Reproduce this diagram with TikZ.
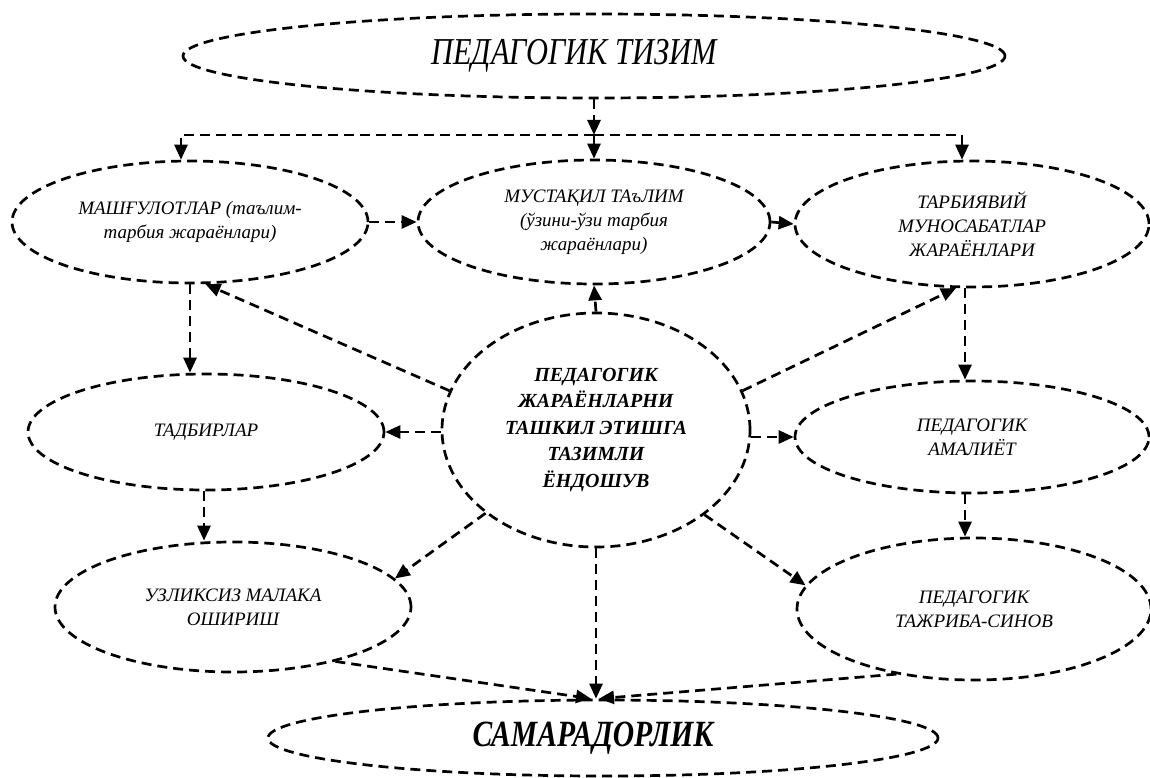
\documentclass[tikz,border=0pt]{standalone}
\usepackage{fontspec}
\setmainfont{Liberation Serif}
\newfontfamily\narrowfont[FakeStretch=0.8]{Liberation Serif}
\usetikzlibrary{shapes.geometric,arrows.meta,positioning}

\tikzset{
	oval/.style={draw=black, ellipse, line width=2.7pt, dash pattern=on 10pt off 6pt,
		inner sep=0pt, align=center, font=\fontsize{19}{24}\selectfont\itshape},
	link/.style={line width=2.7pt, dash pattern=on 10pt off 6pt,
		-{Triangle[length=15pt,width=13pt]}}
}

\begin{document}
\begin{tikzpicture}[x=1pt,y=-1pt]
	\useasboundingbox (0,0) rectangle (1150,778);

	%Top
	\node[oval, minimum width=822pt, minimum height=84pt] (tizim) at (594,56)
		{\narrowfont\fontsize{38}{40}\selectfont\itshape ПЕДАГОГИК ТИЗИМ\hspace*{40pt}};

	%Row 1
	\node[oval, minimum width=356pt, minimum height=122pt] (mashg) at (190,222)
		{МАШҒУЛОТЛАР (таълим-\\тарбия жараёнлари)};
	\node[oval, minimum width=352pt, minimum height=124pt] (mustaqil) at (594,222)
		{МУСТАҚИЛ ТАъЛИМ\\(ўзини-ўзи тарбия\\жараёнлари)};
	\node[oval, minimum width=354pt, minimum height=126pt] (tarbiya) at (972,224)
		{ТАРБИЯВИЙ\\МУНОСАБАТЛАР\\ЖАРАЁНЛАРИ};

	%Centre
	\node[oval, minimum width=308pt, minimum height=234pt,
		font=\fontsize{20}{26.5}\selectfont\bfseries\itshape] (core) at (596,430)
		{ПЕДАГОГИК\\ЖАРАЁНЛАРНИ\\ТАШКИЛ ЭТИШГА\\ТАЗИМЛИ\\ЁНДОШУВ};

	%Row 2
	\node[oval, minimum width=356pt, minimum height=116pt] (tadbir) at (206,432)
		{ТАДБИРЛАР};
	\node[oval, minimum width=354pt, minimum height=112pt] (amaliyot) at (972,437)
		{ПЕДАГОГИК\\АМАЛИЁТ};

	%Row 3
	\node[oval, minimum width=356pt, minimum height=130pt] (uzliksiz) at (233,607)
		{УЗЛИКСИЗ МАЛАКА\\ОШИРИШ};
	\node[oval, minimum width=354pt, minimum height=142pt] (tajriba) at (974,609)
		{ПЕДАГОГИК\\ТАЖРИБА-СИНОВ};

	%Bottom
	\node[oval, minimum width=670pt, minimum height=76pt] (samarad) at (603,738)
		{\narrowfont\fontsize{37}{40}\selectfont\bfseries\itshape САМАРАДОРЛИК\hspace*{20pt}};

	%Arrows
	\coordinate (split) at (594,135);
	\draw[link] (tizim.south) -- (split);
	\draw[link] (split) -- (mustaqil.north);
	\draw[link] (split) -| ([xshift=-9pt]mashg.north);
	\draw[link] (split) -| ([xshift=-10pt]tarbiya.north);

	\draw[link] (mashg.east) -- (mustaqil.west);
	\draw[link] (mustaqil.east) -- (tarbiya.west);

	\draw[link] (core.north) -- (mustaqil.south);
	\draw[link] (core.165) -- (mashg.-76);
	\draw[link] (core.15) -- (tarbiya.-104);

	\draw[link] (mashg.south) -- (mashg.south |- tadbir.north);
	\draw[link] ([xshift=-7pt]tarbiya.south) -- ([xshift=-7pt]tarbiya.south |- amaliyot.north);
	\draw[link] (core.west |- tadbir.east) -- (tadbir.east);
	\draw[link] (core.east |- amaliyot.west) -- (amaliyot.west);

	\draw[link] ([xshift=-2pt]tadbir.south) -- ([xshift=-2pt]tadbir.south |- uzliksiz.north);
	\draw[link] ([xshift=-7pt]amaliyot.south) -- ([xshift=-7pt]amaliyot.south |- tajriba.north);
	\draw[link] (core.217) -- (uzliksiz.10);
	\draw[link] (core.-38) -- (tajriba.172);

	\draw[link] (core.south) -- (core.south |- samarad.north);
	\draw[link] (uzliksiz.-28) -- ([xshift=-12pt]samarad.north);
	\draw[link] (tajriba.-140) -- ([xshift=-4pt]samarad.north);
\end{tikzpicture}
\end{document}
